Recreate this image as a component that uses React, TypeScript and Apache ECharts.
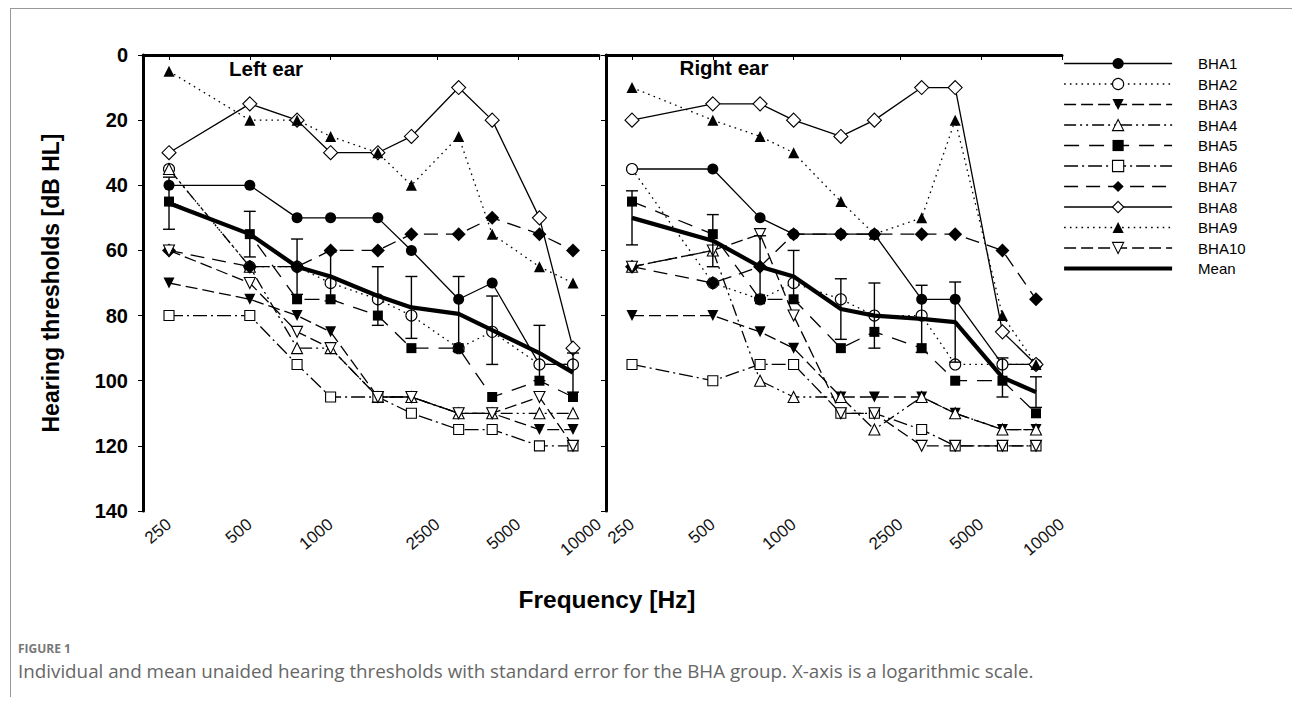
import React, { useEffect, useRef } from "react";
import * as echarts from "echarts";

// ---------- data ----------
const freqs = [250, 500, 750, 1000, 1500, 2000, 3000, 4000, 6000, 8000];
const tickFreqs = [250, 500, 1000, 2500, 5000, 10000];
const names = ["BHA1", "BHA2", "BHA3", "BHA4", "BHA5", "BHA6", "BHA7", "BHA8", "BHA9", "BHA10"];

// Left ear (dB HL)
const leftBHA1 = [40, 40, 50, 50, 50, 60, 75, 70, 95, 95];
const leftBHA2 = [35, 65, 65, 70, 75, 80, 90, 85, 95, 95];
const leftBHA3 = [70, 75, 80, 85, 105, 105, 110, 110, 115, 115];
const leftBHA4 = [35, 65, 90, 90, 105, 105, 110, 110, 110, 110];
const leftBHA5 = [45, 55, 75, 75, 80, 90, 90, 105, 100, 105];
const leftBHA6 = [80, 80, 95, 105, 105, 110, 115, 115, 120, 120];
const leftBHA7 = [60, 65, 65, 60, 60, 55, 55, 50, 55, 60];
const leftBHA8 = [30, 15, 20, 30, 30, 25, 10, 20, 50, 90];
const leftBHA9 = [5, 20, 20, 25, 30, 40, 25, 55, 65, 70];
const leftBHA10 = [60, 70, 85, 90, 105, 105, 110, 110, 105, 120];
const leftMean = [45.5, 55, 65, 68, 74, 77.5, 79.5, 84.5, 91.5, 97.5];
const leftSE = [8, 7, 8.5, 7.5, 9, 9.5, 11.5, 10.5, 8.5, 6];

// Right ear (dB HL)
const rightBHA1 = [35, 35, 50, 55, 55, 55, 75, 75, 95, 95];
const rightBHA2 = [35, 70, 75, 70, 75, 80, 80, 95, 95, 95];
const rightBHA3 = [80, 80, 85, 90, 105, 105, 105, 110, 115, 115];
const rightBHA4 = [65, 60, 100, 105, 105, 115, 105, 110, 115, 115];
const rightBHA5 = [45, 55, 75, 75, 90, 85, 90, 100, 100, 110];
const rightBHA6 = [95, 100, 95, 95, 110, 110, 115, 120, 120, 120];
const rightBHA7 = [65, 70, 65, 55, 55, 55, 55, 55, 60, 75];
const rightBHA8 = [20, 15, 15, 20, 25, 20, 10, 10, 85, 95];
const rightBHA9 = [10, 20, 25, 30, 45, 55, 50, 20, 80, 95];
const rightBHA10 = [65, 60, 55, 80, 110, 110, 120, 120, 120, 120];
const rightMean = [50, 57, 65, 68, 78, 80, 81, 82, 99, 103.5];
const rightSE = [8.3, 8, 9.5, 8, 9.3, 10, 10.3, 12.3, 6, 4.7];

const leftSets = [leftBHA1, leftBHA2, leftBHA3, leftBHA4, leftBHA5, leftBHA6, leftBHA7, leftBHA8, leftBHA9, leftBHA10];
const rightSets = [rightBHA1, rightBHA2, rightBHA3, rightBHA4, rightBHA5, rightBHA6, rightBHA7, rightBHA8, rightBHA9, rightBHA10];

// ---------- styles ----------
const FONT = "Arial, 'Liberation Sans', Helvetica, sans-serif";
const DOT = [1.6, 4.2];
type Sty = { symbol: string; rotate: number; size: number; open: boolean; dash: any };
const styles: Sty[] = [
  { symbol: "circle", rotate: 0, size: 11, open: false, dash: "solid" },
  { symbol: "circle", rotate: 0, size: 11, open: true, dash: DOT },
  { symbol: "triangle", rotate: 180, size: 11, open: false, dash: [12, 5] },
  { symbol: "triangle", rotate: 0, size: 11, open: true, dash: [12, 4, 2, 4, 2, 4] },
  { symbol: "rect", rotate: 0, size: 10, open: false, dash: [15, 10] },
  { symbol: "rect", rotate: 0, size: 10, open: true, dash: [14, 4, 2, 4] },
  { symbol: "diamond", rotate: 0, size: 14, open: false, dash: [14, 8] },
  { symbol: "diamond", rotate: 0, size: 14, open: true, dash: "solid" },
  { symbol: "triangle", rotate: 0, size: 11, open: false, dash: DOT },
  { symbol: "triangle", rotate: 180, size: 11, open: true, dash: [12, 5] },
];

function lineSeries(name: string, vals: number[], st: Sty, axis: number) {
  return {
    type: "line",
    name,
    xAxisIndex: axis,
    yAxisIndex: axis,
    data: freqs.map((f, i) => [f, vals[i]]),
    symbol: st.symbol,
    symbolSize: st.size,
    symbolRotate: st.rotate,
    showAllSymbol: true,
    lineStyle: { color: "#000", width: 1.3, type: st.dash },
    itemStyle: st.open
      ? { color: "#fff", borderColor: "#000", borderWidth: 1.1 }
      : { color: "#000", borderColor: "#000", borderWidth: 0 },
    emphasis: { disabled: true },
    z: 3,
  };
}

function errSeries(mean: number[], se: number[], axis: number) {
  return {
    type: "custom",
    name: "SE" + axis,
    xAxisIndex: axis,
    yAxisIndex: axis,
    data: freqs.map((f, i) => [f, mean[i] - se[i], mean[i] + se[i]]),
    encode: { x: 0, y: [1, 2] },
    z: 4,
    renderItem: (_p: any, api: any) => {
      const x = api.value(0);
      const a = api.coord([x, api.value(1)]);
      const b = api.coord([x, api.value(2)]);
      const w = 6;
      const s = { stroke: "#000", lineWidth: 1.4 };
      return {
        type: "group",
        children: [
          { type: "line", shape: { x1: a[0], y1: a[1], x2: b[0], y2: b[1] }, style: s },
          { type: "line", shape: { x1: a[0] - w, y1: a[1], x2: a[0] + w, y2: a[1] }, style: s },
          { type: "line", shape: { x1: b[0] - w, y1: b[1], x2: b[0] + w, y2: b[1] }, style: s },
        ],
      };
    },
  };
}

function meanSeries(vals: number[], axis: number) {
  return {
    type: "line",
    name: "Mean",
    xAxisIndex: axis,
    yAxisIndex: axis,
    data: freqs.map((f, i) => [f, vals[i]]),
    symbol: "none",
    lineStyle: { color: "#000", width: 4.2, type: "solid" },
    itemStyle: { color: "#000" },
    emphasis: { disabled: true },
    z: 5,
  };
}

const GRID_TOP = 55;
const GRID_H = 456;

function xAxis(idx: number) {
  return {
    type: "log",
    logBase: 10,
    gridIndex: idx,
    min: 200,
    max: 10000,
    axisLine: { show: true, lineStyle: { color: "#000", width: 3 } },
    axisTick: { show: true, customValues: tickFreqs, length: 5, lineStyle: { color: "#000", width: 1 } },
    axisLabel: {
      show: true,
      customValues: tickFreqs,
      formatter: (v: number) => String(Math.round(v)),
      rotate: 40,
      fontSize: 17,
      color: "#111",
      fontFamily: FONT,
      margin: 11,
    },
    splitLine: { show: false },
    minorTick: { show: false },
    minorSplitLine: { show: false },
  };
}

function yAxis(idx: number, labels: boolean) {
  return {
    type: "value",
    gridIndex: idx,
    inverse: true,
    min: 0,
    max: 140,
    interval: 20,
    name: labels ? "Hearing thresholds [dB HL]" : "",
    nameLocation: "middle",
    nameGap: 81,
    nameTextStyle: { fontSize: 23, fontWeight: "bold", color: "#000", fontFamily: FONT },
    axisLine: { show: true, lineStyle: { color: "#000", width: 3 } },
    axisTick: { show: true, length: 5, lineStyle: { color: "#000", width: 1 } },
    axisLabel: {
      show: labels,
      fontSize: 20,
      fontWeight: "bold",
      color: "#000",
      fontFamily: FONT,
      margin: 15,
    },
    splitLine: { show: false },
  };
}

export default function App() {
  const ref = useRef<HTMLDivElement>(null);
  useEffect(() => {
    document.body.style.margin = "0";
    const chart = echarts.init(ref.current!, null, { renderer: "svg" });
    const series: any[] = [];
    names.forEach((n, i) => series.push(lineSeries(n, leftSets[i], styles[i], 0)));
    names.forEach((n, i) => series.push(lineSeries(n, rightSets[i], styles[i], 1)));
    series.push(meanSeries(leftMean, 0), meanSeries(rightMean, 1));
    series.push(errSeries(leftMean, leftSE, 0), errSeries(rightMean, rightSE, 1));

    const legendData: any[] = names.map((n, i) => ({
      name: n,
      lineStyle: { color: "#000", width: 1.3, type: styles[i].dash },
      itemStyle: styles[i].open
        ? { color: "#fff", borderColor: "#000", borderWidth: 1.1 }
        : { color: "#000", borderColor: "#000", borderWidth: 0 },
    }));
    legendData.push({
      name: "Mean",
      lineStyle: { color: "#000", width: 4.2, type: "solid" },
      itemStyle: { color: "rgba(0,0,0,0)", borderColor: "rgba(0,0,0,0)", borderWidth: 0, opacity: 0 },
    });

    chart.setOption({
      animation: false,
      backgroundColor: "#fff",
      grid: [
        { left: 143, top: GRID_TOP, width: 456, height: GRID_H },
        { left: 606, top: GRID_TOP, width: 456, height: GRID_H },
      ],
      xAxis: [xAxis(0), xAxis(1)],
      yAxis: [yAxis(0, true), yAxis(1, false)],
      legend: {
        orient: "vertical",
        left: 1062,
        top: 56,
        padding: 0,
        itemWidth: 108,
        itemHeight: 14,
        itemGap: 5.5,
        selectedMode: false,
        textStyle: { fontSize: 15, color: "#000", fontFamily: FONT, padding: [0, 0, 0, 21] },
        data: legendData,
      },
      graphic: [
        { type: "line", shape: { x1: 10, y1: 8.5, x2: 1292, y2: 8.5 }, style: { stroke: "#999", lineWidth: 1 } },
        { type: "line", shape: { x1: 10.5, y1: 8, x2: 10.5, y2: 697 }, style: { stroke: "#999", lineWidth: 1 } },
        {
          type: "text", x: 266, y: 68,
          style: { text: "Left ear", font: `bold 20.5px ${FONT}`, fill: "#000", align: "center", verticalAlign: "middle" },
        },
        {
          type: "text", x: 724, y: 67,
          style: { text: "Right ear", font: `bold 20.5px ${FONT}`, fill: "#000", align: "center", verticalAlign: "middle" },
        },
        {
          type: "text", x: 607, y: 599,
          style: { text: "Frequency [Hz]", font: `bold 24.5px ${FONT}`, fill: "#000", align: "center", verticalAlign: "middle" },
        },
        {
          type: "text", x: 18, y: 648,
          style: { text: "FIGURE 1", font: `bold 12px 'Open Sans', sans-serif`, fill: "#777", align: "left", verticalAlign: "middle" },
        },
        {
          type: "text", x: 18, y: 671,
          style: {
            text: "Individual and mean unaided hearing thresholds with standard error for the BHA group. X-axis is a logarithmic scale.",
            font: `18.8px 'Open Sans', sans-serif`, fill: "#666", align: "left", verticalAlign: "middle",
          },
        },
      ],
      series,
    });
    return () => chart.dispose();
  }, []);
  return <div ref={ref} style={{ width: 1292, height: 702 }} />;
}
